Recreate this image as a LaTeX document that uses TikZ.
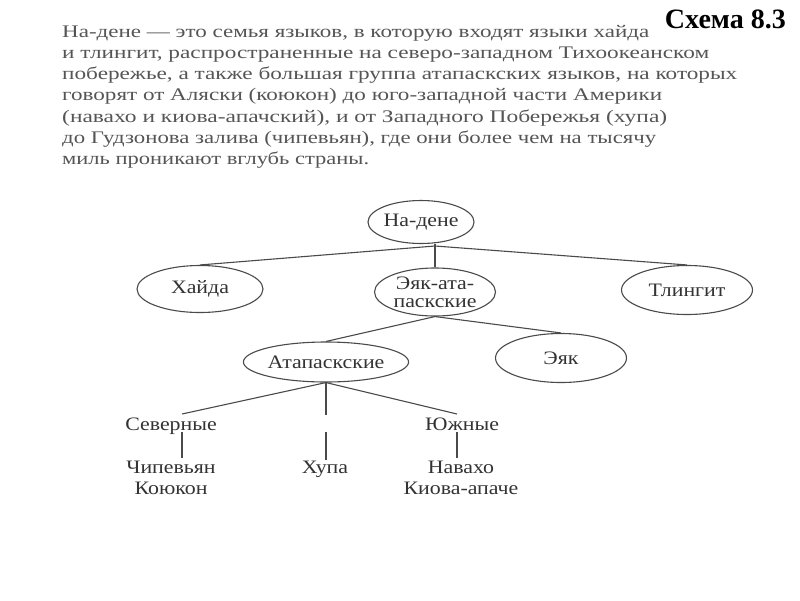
\documentclass[tikz,border=0pt]{standalone}
\usepackage{fontspec}
\usetikzlibrary{shapes.geometric}
\setmainfont{Liberation Serif}
\newfontfamily\bodyfont{Liberation Serif}
\newfontfamily\dfont[FakeStretch=1.15]{Liberation Serif}
\newfontfamily\headfont{Liberation Serif}
\definecolor{bodygray}{HTML}{555555}
\definecolor{diagtext}{HTML}{333333}
\definecolor{linegray}{HTML}{4A4A4A}
\tikzset{
  bodyline/.style={anchor=base west, inner sep=0pt, text=bodygray, font=\bodyfont\fontsize{17.7}{20}\selectfont},
  oval/.style={draw=linegray, line width=1.1pt, ellipse, inner sep=0pt, text=diagtext, font=\dfont\fontsize{19}{19}\selectfont, align=center},
  lbl/.style={anchor=base, inner sep=0pt, text=diagtext, font=\dfont\fontsize{19}{19}\selectfont},
  conn/.style={draw=linegray, line width=1.1pt},
}
\begin{document}
\begin{tikzpicture}[x=1pt,y=-1pt]
\useasboundingbox[fill=white] (0,0) rectangle (800,600);
% header
\node[anchor=base east, inner sep=0pt, font=\headfont\bfseries\fontsize{28}{28}\selectfont] (head) at (786,28) {Схема 8.3};
% body text
\node[bodyline] (l1) at (62,37.0) {\resizebox{587pt}{\height}{На-дене — это семья языков, в которую входят языки хайда}};
\node[bodyline] (l2) at (62,58.3) {\resizebox{647pt}{\height}{и тлингит, распространенные на северо-западном Тихоокеанском}};
\node[bodyline] (l3) at (62,79.6) {\resizebox{675pt}{\height}{побережье, а также большая группа атапаскских языков, на которых}};
\node[bodyline] (l4) at (62,100.9) {\resizebox{600pt}{\height}{говорят от Аляски (коюкон) до юго-западной части Америки}};
\node[bodyline] (l5) at (62,122.2) {\resizebox{605pt}{\height}{(навахо и киова-апачский), и от Западного Побережья (хупа)}};
\node[bodyline] (l6) at (62,143.5) {\resizebox{594pt}{\height}{до Гудзонова залива (чипевьян), где они более чем на тысячу}};
\node[bodyline] (l7) at (62,164.8) {\resizebox{307pt}{\height}{миль проникают вглубь страны.}};
% ellipses
\node[oval, minimum width=99pt, minimum height=43pt] (nadene) at (421,222) {На-дене};
\node[oval, minimum width=126pt, minimum height=47pt] (haida) at (200,289) {Хайда};
\node[oval, minimum width=121pt, minimum height=48pt, font=\dfont\fontsize{19}{18}\selectfont] (eyakata) at (435,292) {Эяк-ата-\\паскские};
\node[oval, minimum width=131pt, minimum height=49pt] (tlingit) at (687,290) {Тлингит};
\node[oval, minimum width=130pt, minimum height=40pt] (atap) at (326,362) {Атапаскские};
\node[oval, minimum width=131pt, minimum height=49pt] (eyak) at (561,358) {Эяк};
% leaf labels
\node[lbl] (sev) at (171,430) {Северные};
\node[lbl] (yuzh) at (462,430) {Южные};
\node[lbl] (chip) at (171,473) {Чипевьян};
\node[lbl] (koyu) at (171,494) {Коюкон};
\node[lbl] (khupa) at (325,473) {Хупа};
\node[lbl] (nav) at (461,473) {Навахо};
\node[lbl] (kiova) at (461,494) {Киова-апаче};
% junctions
\coordinate (j1) at (435,246);
\coordinate (s1) at (182,414);
\coordinate (s2) at (182,432);
\coordinate (s3) at (182,458);
\coordinate (h1) at (326,415);
\coordinate (h2) at (326,432);
\coordinate (h3) at (326,460);
\coordinate (y1) at (457,414);
\coordinate (y2) at (457,432);
\coordinate (y3) at (457,458);
% connectors
\draw[conn] (nadene.south -| eyakata.north) -- (eyakata.north);
\draw[conn] (j1) -- (haida.north);
\draw[conn] (j1) -- (tlingit.north);
\draw[conn] (eyakata.south) -- (atap.north);
\draw[conn] (eyakata.south) -- (eyak.north);
\draw[conn] (atap.south) -- (s1);
\draw[conn] (atap.south) -- (h1);
\draw[conn] (atap.south) -- (y1);
\draw[conn] (s2) -- (s3);
\draw[conn] (h2) -- (h3);
\draw[conn] (y2) -- (y3);
\end{tikzpicture}
\end{document}
